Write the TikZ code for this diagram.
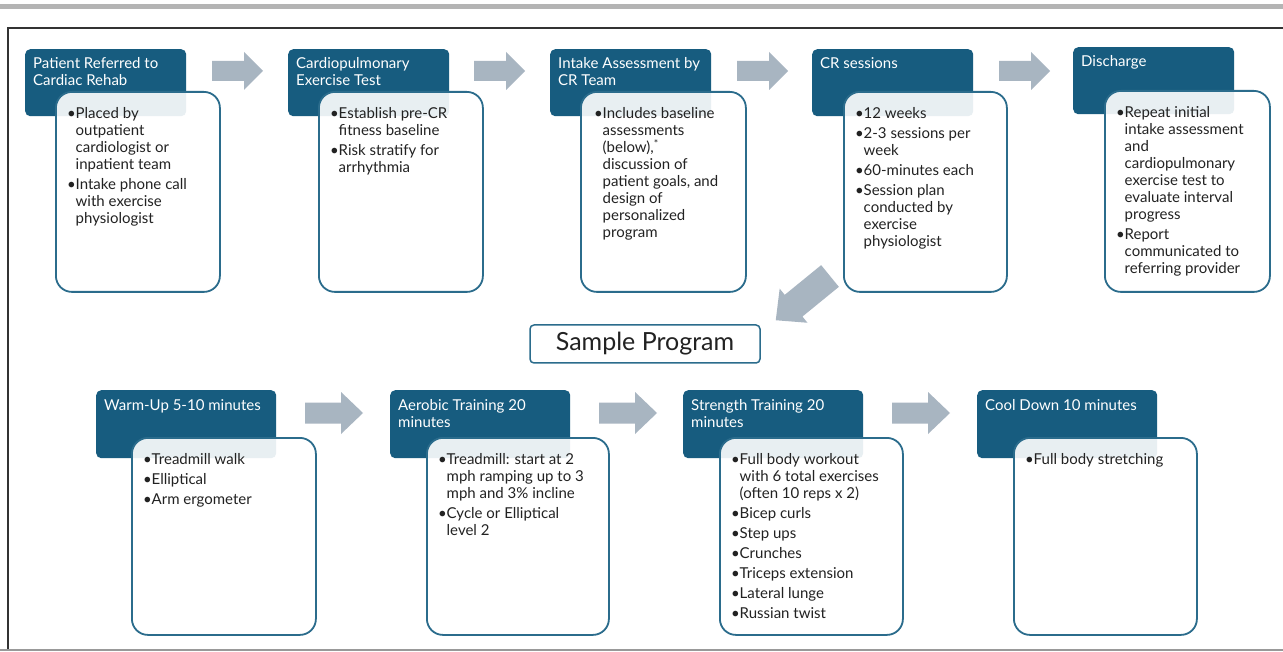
\documentclass[tikz,border=0pt]{standalone}
\usepackage{fontspec}
\setmainfont{Lato}
\definecolor{hdr}{HTML}{175C7F}
\definecolor{bord}{HTML}{2B6C8C}
\definecolor{arr}{HTML}{A8B5C1}
\definecolor{txt}{HTML}{222222}
\definecolor{topbar}{HTML}{B4B4B4}
\newcommand\bu{\makebox[8.5pt][l]{\textbullet}}
\newcommand\ii{\hspace*{8.5pt}}
\newcommand\aw{10}
\newcommand\ah{19}
\newcommand\al{51}
\newcommand\ahx{32}
\tikzset{
 hdrbox/.style={fill=hdr, rounded corners=5pt, anchor=north west, inner sep=0pt},
 bodybox/.style={draw=bord, line width=1.8pt, fill=white, fill opacity=0.9, rounded corners=16pt, anchor=north west, inner sep=0pt},
 hdrtext/.style={text=white, anchor=north west, inner sep=0pt, align=left, font=\fontsize{15}{17}\selectfont},
 bodytext/.style={text=txt, anchor=north west, inner sep=0pt, align=left, font=\fontsize{15}{17}\selectfont},
 blockarrow/.pic={\fill[arr] (0,-\aw) -- (\ahx,-\aw) -- (\ahx,-\ah) -- (\al,0) -- (\ahx,\ah) -- (\ahx,\aw) -- (0,\aw) -- cycle;}
}
\begin{document}
\begin{tikzpicture}[x=1pt,y=-1pt]
\useasboundingbox (0,0) rectangle (1283,652);
\fill[white] (0,0) rectangle (1283,652);
% frame
\fill[topbar] (0,4) rectangle (1283,9);
\draw[line width=1.5pt, black!80] (1283,28) -- (8,28) -- (8,650);
\draw[line width=2pt, gray!80] (0,650) -- (1283,650);

% ---------- top row ----------
\node[hdrbox, minimum width=161pt, minimum height=67pt] (h1) at (25,49) {};
\node[hdrbox, minimum width=161pt, minimum height=67pt] (h2) at (288,49) {};
\node[hdrbox, minimum width=161pt, minimum height=67pt] (h3) at (550,49) {};
\node[hdrbox, minimum width=161pt, minimum height=67pt] (h4) at (812,49) {};
\node[hdrbox, minimum width=161pt, minimum height=67pt] (h5) at (1073,47) {};

\node[hdrtext] (ht1) at (33,57.5) {Patient Referred to\\Cardiac Rehab};
\node[hdrtext] (ht2) at (296,57.5) {Cardiopulmonary\\Exercise Test};
\node[hdrtext] (ht3) at (558,57.5) {Intake Assessment by\\CR Team};
\node[hdrtext] (ht4) at (820,57.5) {CR sessions};
\node[hdrtext] (ht5) at (1081,55.5) {Discharge};

\node[bodybox, minimum width=164pt, minimum height=200pt] (b1) at (55,91) {};
\node[bodybox, minimum width=164pt, minimum height=200pt] (b2) at (318,91) {};
\node[bodybox, minimum width=165pt, minimum height=200pt] (b3) at (580,91) {};
\node[bodybox, minimum width=163pt, minimum height=200pt] (b4) at (843,91) {};
\node[bodybox, minimum width=165pt, minimum height=201pt] (b5) at (1104,90) {};

\node[bodytext] (bt1) at (67,107) {\bu Placed by\\\ii outpatient\\\ii cardiologist or\\\ii inpatient team\\[3pt]\bu Intake phone call\\\ii with exercise\\\ii physiologist};
\node[bodytext] (bt2) at (330,107) {\bu Establish pre-CR\\\ii fitness baseline\\[3pt]\bu Risk stratify for\\\ii arrhythmia};
\node[bodytext] (bt3) at (594,107) {\bu Includes baseline\\\ii assessments\\\ii (below),\textsuperscript{*}\\\ii discussion of\\\ii patient goals, and\\\ii design of\\\ii personalized\\\ii program};
\node[bodytext] (bt4) at (855,107) {\bu 12 weeks\\[3pt]\bu 2-3 sessions per\\\ii week\\[3pt]\bu 60-minutes each\\[3pt]\bu Session plan\\\ii conducted by\\\ii exercise\\\ii physiologist};
\node[bodytext] (bt5) at (1116,106) {\bu Repeat initial\\\ii intake assessment\\\ii and\\\ii cardiopulmonary\\\ii exercise test to\\\ii evaluate interval\\\ii progress\\[3pt]\bu Report\\\ii communicated to\\\ii referring provider};

\pic at (212,71) {blockarrow};
\pic at (474,71) {blockarrow};
\pic at (737,71) {blockarrow};
\pic at (999,71) {blockarrow};

% diagonal arrow
\renewcommand\aw{14}
\renewcommand\ah{22}
\renewcommand\al{70}
\renewcommand\ahx{47}
\pic[rotate=219.2] at (830,276) {blockarrow};

% sample program
\node[draw=bord, line width=1.5pt, rounded corners=4pt, minimum width=230pt, minimum height=38pt, inner sep=0pt, text=txt, font=\fontsize{25}{28}\selectfont] (sp) at (645,344) {Sample Program};

% ---------- bottom row ----------
\node[hdrbox, minimum width=180pt, minimum height=68pt] (g1) at (96,390) {};
\node[hdrbox, minimum width=180pt, minimum height=68pt] (g2) at (390,390) {};
\node[hdrbox, minimum width=180pt, minimum height=68pt] (g3) at (683,390) {};
\node[hdrbox, minimum width=180pt, minimum height=68pt] (g4) at (977,390) {};

\node[hdrtext] (gt1) at (104,399.5) {Warm-Up 5-10 minutes};
\node[hdrtext] (gt2) at (398,399.5) {Aerobic Training 20\\minutes};
\node[hdrtext] (gt3) at (691,399.5) {Strength Training 20\\minutes};
\node[hdrtext] (gt4) at (985,399.5) {Cool Down 10 minutes};

\node[bodybox, minimum width=184pt, minimum height=197pt] (c1) at (131,437) {};
\node[bodybox, minimum width=182pt, minimum height=197pt] (c2) at (426,437) {};
\node[bodybox, minimum width=183pt, minimum height=197pt] (c3) at (719,437) {};
\node[bodybox, minimum width=183pt, minimum height=197pt] (c4) at (1013,437) {};

\node[bodytext] (ct1) at (143,453) {\bu Treadmill walk\\[3pt]\bu Elliptical\\[3pt]\bu Arm ergometer};
\node[bodytext] (ct2) at (438,453) {\bu Treadmill: start at 2\\\ii mph ramping up to 3\\\ii mph and 3\% incline\\[3pt]\bu Cycle or Elliptical\\\ii level 2};
\node[bodytext] (ct3) at (731,453) {\bu Full body workout\\\ii with 6 total exercises\\\ii (often 10 reps x 2)\\[3pt]\bu Bicep curls\\[3pt]\bu Step ups\\[3pt]\bu Crunches\\[3pt]\bu Triceps extension\\[3pt]\bu Lateral lunge\\[3pt]\bu Russian twist};
\node[bodytext] (ct4) at (1025,453) {\bu Full body stretching};

\renewcommand\aw{10.5}
\renewcommand\ah{21}
\renewcommand\al{58}
\renewcommand\ahx{36}
\pic at (305,413) {blockarrow};
\pic at (599,413) {blockarrow};
\pic at (892,413) {blockarrow};
\end{tikzpicture}
\end{document}
